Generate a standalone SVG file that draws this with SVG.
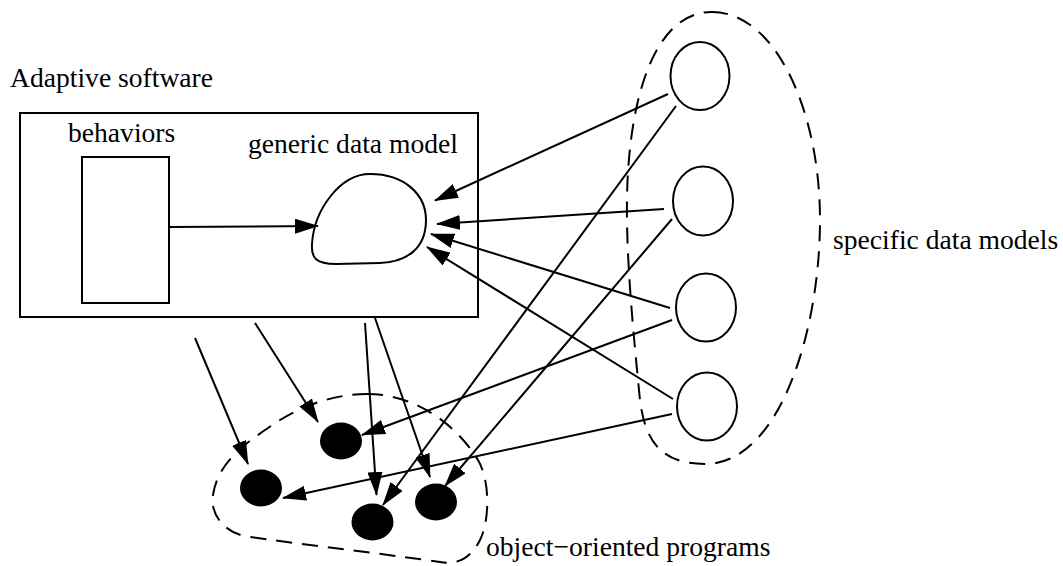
<svg xmlns="http://www.w3.org/2000/svg" width="1063" height="566" viewBox="0 0 1063 566">
<style>
.t{font-family:'Liberation Serif','DejaVu Serif','Times New Roman',serif;font-size:27.6px;fill:#000}
.ln{fill:none;stroke:#000;stroke-width:2}
.dash{fill:none;stroke:#000;stroke-width:2;stroke-dasharray:16 10}
.dot{fill:#000}
.arr{fill:none;stroke:#000;stroke-width:2;marker-end:url(#ah)}
</style>
<defs>
<marker id="ah" markerUnits="userSpaceOnUse" markerWidth="24" markerHeight="15" refX="23" refY="7.5" orient="auto" viewBox="0 0 24 15">
<path d="M0,0 L24,7.5 L0,15 Z" fill="#000"/>
</marker>
</defs>
<rect width="1063" height="566" fill="#fff"/>
<g id="adaptive">
<rect class="ln" x="20" y="113" width="458" height="204"/>
<text class="t" font-family="Liberation Serif, serif" x="10" y="87">Adaptive software</text>
</g>
<g id="behaviors">
<rect class="ln" x="82" y="157" width="87" height="146"/>
<text class="t" font-family="Liberation Serif, serif" x="68" y="142">behaviors</text>
</g>
<g id="generic">
<path class="ln" d="M 336,264 C 316,264 311,258 312,244 C 314,210 340,174 370,174 C 405,174 426,195 426,220 C 426,250 405,262 380,263 Z"/>
<text class="t" font-family="Liberation Serif, serif" x="248" y="153">generic data model</text>
</g>
<g id="specific">
<path class="dash" d="M 712,12 C 775,12 820,110 820,220 C 820,330 780,464 705,464 C 660,464 645,440 640,400 C 634,340 626,260 627,200 C 628,110 650,12 712,12 Z"/>
<ellipse class="ln" cx="700" cy="76" rx="29.5" ry="34"/>
<ellipse class="ln" cx="703" cy="201" rx="30" ry="34.5"/>
<ellipse class="ln" cx="706" cy="307.5" rx="30" ry="34"/>
<ellipse class="ln" cx="707" cy="406.5" rx="30" ry="34"/>
<text class="t" font-family="Liberation Serif, serif" x="833" y="249">specific data models</text>
</g>
<g id="oop">
<path class="dash" d="M 367,394 C 420,394 460,430 478,460 C 490,480 490,520 480,540 C 470,560 455,565 440,562 C 400,556 330,548 250,537 C 220,533 210,510 213,495 C 218,460 250,440 280,420 C 310,402 340,394 367,394 Z"/>
<ellipse class="dot" cx="341" cy="441" rx="21" ry="18.5"/>
<ellipse class="dot" cx="261" cy="488" rx="21" ry="18.5"/>
<ellipse class="dot" cx="372.5" cy="522" rx="21" ry="18.5"/>
<ellipse class="dot" cx="436" cy="502" rx="21" ry="18.5"/>
<text class="t" font-family="Liberation Serif, serif" x="486" y="556">object−oriented programs</text>
</g>
<g id="connectors">
<line class="arr" x1="169" y1="227" x2="318" y2="226"/>
<line class="arr" x1="668" y1="94" x2="435" y2="200.5"/>
<line class="arr" x1="664" y1="209" x2="437" y2="224"/>
<line class="arr" x1="670" y1="308" x2="431" y2="234"/>
<line class="arr" x1="673" y1="399" x2="427" y2="247"/>
<line class="arr" x1="676" y1="106" x2="383" y2="505"/>
<line class="arr" x1="672" y1="219" x2="445" y2="486"/>
<line class="arr" x1="672" y1="320" x2="362" y2="435"/>
<line class="arr" x1="672" y1="414" x2="283" y2="498"/>
<line class="arr" x1="195" y1="338" x2="248" y2="464"/>
<line class="arr" x1="255" y1="323" x2="318" y2="422"/>
<line class="arr" x1="365" y1="323" x2="376.5" y2="495"/>
<line class="arr" x1="375" y1="318" x2="430" y2="477"/>
</g>
</svg>
